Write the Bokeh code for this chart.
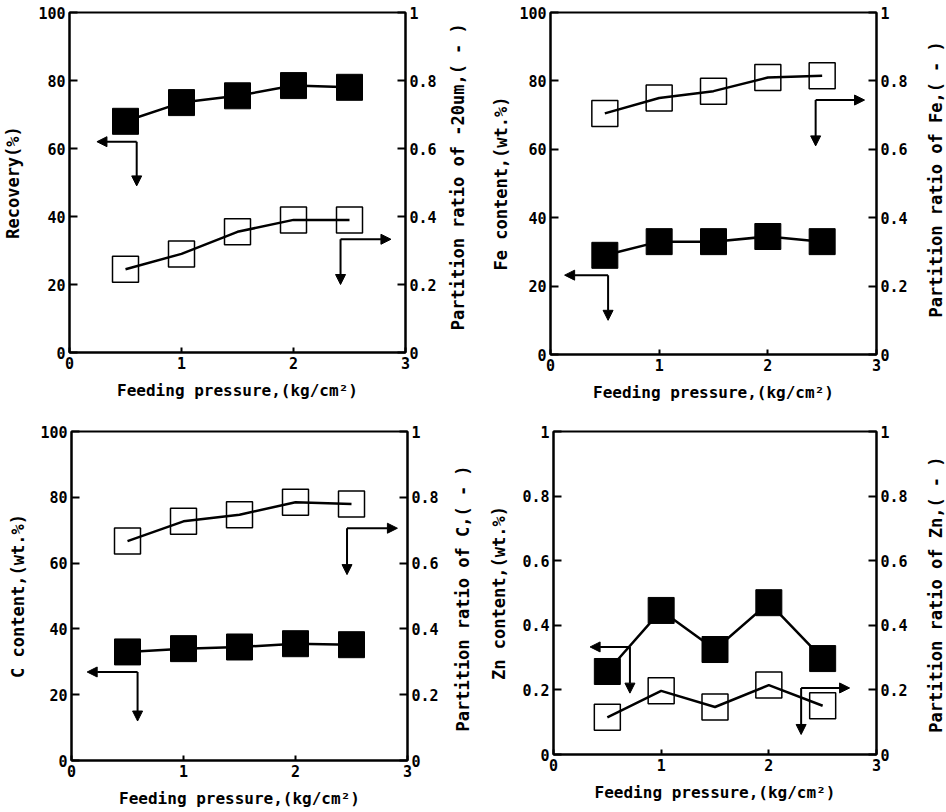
import math
from bokeh.plotting import figure
from bokeh.models import (Range1d, LinearAxis, FixedTicker, NumeralTickFormatter,
                          Arrow, NormalHead)
from bokeh.core.properties import value
from bokeh.layouts import column, row
from bokeh.embed import file_html
from bokeh.resources import INLINE

# ---------------- data ----------------
pressure = [0.5, 1.0, 1.5, 2.0, 2.5]

recovery = [68.0, 73.5, 75.5, 78.5, 78.0]
partition_20um = [0.245, 0.29, 0.355, 0.39, 0.39]

fe_content = [29.0, 33.0, 33.0, 34.5, 33.0]
fe_partition = [0.705, 0.75, 0.77, 0.81, 0.815]

c_content = [33.0, 34.0, 34.5, 35.5, 35.2]
c_partition = [0.667, 0.727, 0.747, 0.785, 0.78]

zn_content = [0.257, 0.446, 0.325, 0.47, 0.297]
zn_partition = [0.115, 0.197, 0.147, 0.215, 0.151]

x_ticks = [0, 1, 2, 3]
pct_ticks = [0, 20, 40, 60, 80, 100]
ratio_ticks = [0, 0.2, 0.4, 0.6, 0.8, 1.0]

# indicator arrows: (corner x, corner y, horizontal end x, vertical end y)
arrows_left = [(0.60, 62.0, 0.245, 49.0), (0.53, 23.2, 0.13, 10.0),
               (0.59, 26.9, 0.14, 12.0), (0.71, 0.333, 0.34, 0.19)]
arrows_right = [(2.42, 0.333, 2.87, 0.20), (2.44, 0.744, 2.89, 0.61),
                (2.46, 0.706, 2.91, 0.565), (2.30, 0.206, 2.75, 0.062)]

x_label = "Feeding pressure,(kg/cm\u00b2)"
left_labels = ["Recovery(%)", "Fe content,(wt.%)", "C content,(wt.%)", "Zn content,(wt.%)"]
right_labels = ["Partition ratio of -20um,( - )", "Partition ratio of Fe,( - )",
                "Partition ratio of C,( - )", "Partition ratio of Zn,( - )"]

FONT = "DejaVu Sans Mono"


def style_axis(ax, ticks, fmt=None):
    ax.ticker = FixedTicker(ticks=ticks)
    if fmt is not None:
        ax.formatter = fmt
    ax.axis_line_width = 2
    ax.axis_line_color = "black"
    ax.major_tick_in = 8
    ax.major_tick_out = 0
    ax.major_tick_line_width = 2
    ax.major_tick_line_color = "black"
    ax.minor_tick_line_color = None
    ax.major_label_text_font = FONT
    ax.major_label_text_font_style = "bold"
    ax.major_label_text_font_size = "15px"
    ax.major_label_text_color = "black"
    ax.major_label_standoff = 4
    ax.axis_label_text_font = FONT
    ax.axis_label_text_font_style = "bold"
    ax.axis_label_text_font_size = "17px"
    ax.axis_label_text_color = "black"
    ax.axis_label_standoff = 8


def make_panel(left_vals, right_vals, left_max, lab_l, lab_r, arr_l, arr_r,
               width, height, bl, fw, bt, bb, lstand, roff, rcy):
    br = 38
    main_w = bl + fw + br
    p = figure(width=main_w, height=height, output_backend="svg", toolbar_location=None,
               x_range=Range1d(0, 3), y_range=Range1d(0, left_max),
               min_border_left=bl, min_border_right=br, min_border_top=bt,
               min_border_bottom=bb, x_axis_location=None, y_axis_location=None)
    p.extra_y_ranges = {"r": Range1d(0, 1)}
    p.grid.visible = False
    p.outline_line_color = "black"
    p.outline_line_width = 2
    p.background_fill_color = "white"
    p.border_fill_color = "white"

    lfmt = NumeralTickFormatter(format="0.[0]") if left_max == 1 else None
    xa = LinearAxis(axis_label=x_label)
    style_axis(xa, x_ticks)
    xa.major_tick_in = 5
    xa.axis_label_text_font_size = "16px"
    xa.axis_label_standoff = 9
    p.add_layout(xa, "below")
    la = LinearAxis(axis_label=lab_l)
    style_axis(la, ratio_ticks if left_max == 1 else pct_ticks, lfmt)
    la.axis_label_standoff = lstand
    p.add_layout(la, "left")
    ra = LinearAxis(y_range_name="r")
    style_axis(ra, ratio_ticks, NumeralTickFormatter(format="0.[0]"))
    p.add_layout(ra, "right")

    # lines
    p.line(pressure, left_vals, line_color="black", line_width=2.5)
    p.line(pressure, right_vals, line_color="black", line_width=2.5, y_range_name="r")
    # markers
    p.scatter(pressure, left_vals, marker="square", size=26, fill_color="black",
              line_color="black")
    p.scatter(pressure, right_vals, marker="square", size=26, fill_alpha=0,
              line_color="black", line_width=1.5, y_range_name="r")

    # arrows
    cx, cy, ex, ey = arr_l
    for (x1, y1) in [(ex, cy), (cx, ey)]:
        p.add_layout(Arrow(x_start=cx, y_start=cy, x_end=x1, y_end=y1,
                           line_width=2, line_color="black",
                           end=NormalHead(size=10, fill_color="black", line_color="black")))
    cx, cy, ex, ey = arr_r
    for (x1, y1) in [(ex, cy), (cx, ey)]:
        p.add_layout(Arrow(x_start=cx, y_start=cy, x_end=x1, y_end=y1,
                           line_width=2, line_color="black", y_range_name="r",
                           end=NormalHead(size=10, fill_color="black", line_color="black")))

    # strip carrying the right-hand axis title (reads bottom-to-top);
    # its ranges are pixel based, y measured from the top
    sw = width - main_w
    s = figure(width=sw, height=height, output_backend="svg", toolbar_location=None,
               x_range=Range1d(0, sw), y_range=Range1d(height, 0),
               min_border=0, min_border_left=0, min_border_right=0,
               min_border_top=0, min_border_bottom=0,
               x_axis_location=None, y_axis_location=None)
    s.grid.visible = False
    s.outline_line_color = None
    s.border_fill_color = "white"
    s.background_fill_color = "white"
    s.text(x=[roff - br], y=[rcy], text=[lab_r],
           angle=math.pi / 2, text_align="center", text_baseline="middle",
           text_font=value(FONT), text_font_style="bold", text_font_size="17px",
           text_color="black")
    return row(p, s)


r1 = make_panel(recovery, partition_20um, 100, left_labels[0], right_labels[0],
                arrows_left[0], arrows_right[0], 473, 412, 69, 336, 12, 60, 12, 52, 199)
r2 = make_panel(fe_content, fe_partition, 100, left_labels[1], right_labels[1],
                arrows_left[1], arrows_right[1], 473, 412, 77, 326, 12, 58, 5, 59, 201)
r3 = make_panel(c_content, c_partition, 100, left_labels[2], right_labels[2],
                arrows_left[2], arrows_right[2], 473, 400, 71, 336, 19, 52, 9, 55, 203)
r4 = make_panel(zn_content, zn_partition, 1, left_labels[3], right_labels[3],
                arrows_left[3], arrows_right[3], 473, 400, 80, 323, 19, 58, 10, 59, 202)

layout = column(row(r1, r2), row(r3, r4))
open("out.html", "w").write(file_html(layout, INLINE))
